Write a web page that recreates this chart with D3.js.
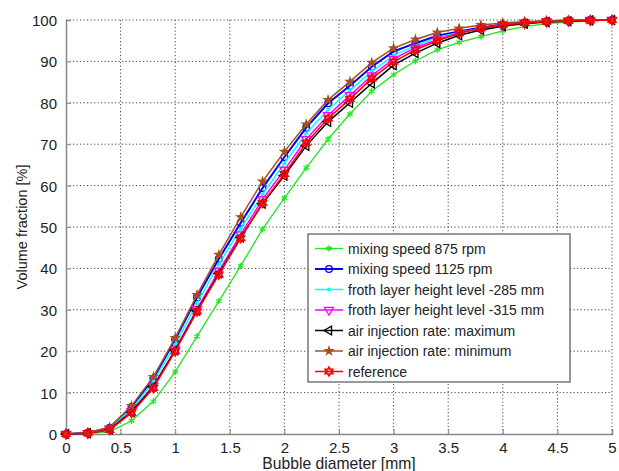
<!DOCTYPE html>
<html>
<head>
<meta charset="utf-8">
<script src="https://cdn.jsdelivr.net/npm/d3@7"></script>
<style>
  body { margin: 0; background: #fff; }
  text { font-family: "Liberation Sans", Arial, sans-serif; fill: #222; }
</style>
</head>
<body>
<svg id="canvas"></svg>
<script>
// bubble diameter [mm]
const diameters = [0, 0.2, 0.4, 0.6, 0.8, 1.0, 1.2, 1.4, 1.6, 1.8, 2.0, 2.2, 2.4,
    2.6, 2.8, 3.0, 3.2, 3.4, 3.6, 3.8, 4.0, 4.2, 4.4, 4.6, 4.8, 5.0];

const speed875 = [0, 0.1, 0.6, 3.2, 7.9, 15.0, 23.6, 32.1, 40.6, 49.5, 57.0, 64.3, 71.2,
    77.3, 82.8, 86.8, 90.1, 92.8, 94.6, 96.0, 97.4, 98.4, 99.1, 99.5, 99.8, 100];
const speed1125 = [0, 0.3, 1.5, 6.5, 13.4, 22.8, 33.0, 42.3, 51.0, 59.4, 66.9, 74.0, 79.9,
    84.1, 88.7, 92.4, 94.4, 96.2, 97.2, 98.2, 98.9, 99.4, 99.7, 99.9, 100, 100];
const froth285 = [0, 0.3, 1.4, 6.0, 12.6, 21.6, 31.6, 41.0, 49.6, 57.9, 65.4, 72.6, 78.4,
    83.0, 87.6, 91.4, 93.8, 95.8, 97.0, 98.0, 98.8, 99.3, 99.6, 99.8, 100, 100];
const froth315 = [0, 0.2, 1.2, 5.5, 11.6, 20.4, 30.2, 39.4, 48.2, 56.7, 63.8, 71.2, 77.0,
    81.8, 86.6, 90.6, 93.3, 95.3, 96.9, 98.0, 98.8, 99.3, 99.6, 99.8, 100, 100];
const airMax = [0, 0.2, 1.1, 5.3, 11.4, 20.2, 29.8, 38.8, 47.5, 55.6, 62.4, 69.6, 75.4,
    80.0, 84.7, 89.1, 92.0, 94.4, 96.3, 97.6, 98.5, 99.1, 99.5, 99.7, 99.9, 100];
const airMin = [0, 0.3, 1.6, 6.8, 13.8, 23.2, 33.6, 43.3, 52.4, 61.0, 68.2, 74.8, 80.7,
    85.1, 89.7, 93.2, 95.3, 97.0, 98.0, 98.8, 99.3, 99.6, 99.8, 99.9, 100, 100];
const reference = [0, 0.2, 1.0, 5.1, 11.1, 20.0, 29.6, 38.5, 47.3, 55.8, 62.8, 70.3, 76.2,
    80.9, 85.9, 89.9, 92.8, 95.0, 96.8, 98.0, 98.8, 99.3, 99.6, 99.8, 99.9, 100];

const xTicks = [0, 0.5, 1, 1.5, 2, 2.5, 3, 3.5, 4, 4.5, 5];
const yTicks = [0, 10, 20, 30, 40, 50, 60, 70, 80, 90, 100];

const seriesNames = ["mixing speed 875 rpm", "mixing speed 1125 rpm",
    "froth layer height level -285 mm", "froth layer height level -315 mm",
    "air injection rate: maximum", "air injection rate: minimum", "reference"];

// hexagram symbol like matlab 'h'
const hexagram = {
    draw(ctx, size) {
        const r = Math.sqrt(size / 2);
        for (let t = 0; t < 2; t++) {
            for (let i = 0; i < 3; i++) {
                const a = (t === 0 ? -Math.PI / 2 : Math.PI / 2) + i * 2 * Math.PI / 3;
                const px = r * Math.cos(a), py = r * Math.sin(a);
                if (i === 0) ctx.moveTo(px, py); else ctx.lineTo(px, py);
            }
            ctx.closePath();
        }
    }
};

const styles = [
    { values: speed875, color: "#22e622", width: 1.3, symbol: d3.symbolAsterisk, size: 28, fill: false },
    { values: speed1125, color: "#0000ff", width: 2, symbol: d3.symbolCircle, size: 36, fill: false },
    { values: froth285, color: "#00ffff", width: 1.5, symbol: d3.symbolCircle, size: 6, fill: true },
    { values: froth315, color: "#ff00ff", width: 1.5, symbol: d3.symbolTriangle, size: 36, fill: false, rotate: 180 },
    { values: airMax, color: "#000000", width: 1.5, symbol: d3.symbolTriangle, size: 34, fill: false, rotate: -90 },
    { values: airMin, color: "#a5501e", width: 1.5, symbol: d3.symbolStar, size: 18, fill: true },
    { values: reference, color: "#ff0000", width: 1.5, symbol: hexagram, size: 46, fill: false }
];

const margins = { top: 20, right: 7, bottom: 37, left: 66 };
const width = 619 - margins.left - margins.right;
const height = 471 - margins.top - margins.bottom;

const svg = d3.select("#canvas")
    .attr("width", 619)
    .attr("height", 471)
    .append("g")
    .attr("transform", "translate(" + margins.left + "," + margins.top + ")");

const x = d3.scaleLinear().domain([0, 5]).range([0, width]);
const y = d3.scaleLinear().domain([0, 100]).range([height, 0]);

// grid
svg.append("g")
    .selectAll("line")
    .data(xTicks.slice(1))
    .enter()
    .append("line")
    .attr("x1", d => x(d)).attr("x2", d => x(d))
    .attr("y1", 0).attr("y2", height)
    .style("stroke", "#444")
    .style("stroke-dasharray", "1.2,2.3");

svg.append("g")
    .selectAll("line")
    .data(yTicks.slice(1))
    .enter()
    .append("line")
    .attr("x1", 0).attr("x2", width)
    .attr("y1", d => y(d)).attr("y2", d => y(d))
    .style("stroke", "#444")
    .style("stroke-dasharray", "1.2,2.3");

// axes
const xAxis = svg.append("g")
    .attr("transform", "translate(0," + height + ")")
    .call(d3.axisBottom(x).tickValues(xTicks).tickSize(-5).tickPadding(8.5).tickFormat(d3.format("")));

const yAxis = svg.append("g")
    .call(d3.axisLeft(y).tickValues(yTicks).tickSize(-5).tickPadding(9));

[xAxis, yAxis].forEach(a => {
    a.select(".domain").style("stroke", "#888").style("stroke-width", 1.5);
    a.selectAll(".tick line").style("stroke", "#888");
    a.selectAll("text")
        .style("font-size", "15px")
        .style("font-family", "'Liberation Sans', Arial, sans-serif")
        .style("fill", "#222");
});
yAxis.selectAll("text").attr("dy", "0.36em");

// lines and markers
const line = d3.line()
    .x((d, i) => x(diameters[i]))
    .y(d => y(d));

const markerTransform = (s, px, py) =>
    "translate(" + px + "," + py + ")" + (s.rotate ? " rotate(" + s.rotate + ")" : "");

styles.forEach(s => {
    svg.append("path")
        .datum(s.values)
        .attr("d", line)
        .style("fill", "none")
        .style("stroke", s.color)
        .style("stroke-width", s.width);

    svg.append("g")
        .selectAll("path")
        .data(s.values)
        .enter()
        .append("path")
        .attr("d", d3.symbol().type(s.symbol).size(s.size))
        .attr("transform", (d, i) => markerTransform(s, x(diameters[i]), y(d)))
        .style("fill", s.fill ? s.color : "none")
        .style("stroke", s.color)
        .style("stroke-width", 1.3);
});

// axis labels
svg.append("text")
    .attr("x", width / 2)
    .attr("y", 469 - margins.top)
    .attr("text-anchor", "middle")
    .style("font-size", "15.7px")
    .text("Bubble diameter [mm]");

svg.append("text")
    .attr("transform", "translate(-39," + (height / 2) + ") rotate(-90)")
    .attr("text-anchor", "middle")
    .style("font-size", "14.5px")
    .text("Volume fraction [%]");

// legend
const legend = svg.append("g")
    .attr("transform", "translate(" + (308 - margins.left) + "," + (234 - margins.top) + ")");

legend.append("rect")
    .attr("width", 262)
    .attr("height", 148)
    .style("fill", "#fff")
    .style("stroke", "#555")
    .style("stroke-width", 1.2);

styles.forEach((s, i) => {
    const row = legend.append("g")
        .attr("transform", "translate(0," + (14.5 + i * 20.5) + ")");
    row.append("line")
        .attr("x1", 7).attr("x2", 35)
        .style("stroke", s.color)
        .style("stroke-width", s.width);
    row.append("path")
        .attr("d", d3.symbol().type(s.symbol).size(s.size))
        .attr("transform", markerTransform(s, 21, 0))
        .style("fill", s.fill ? s.color : "none")
        .style("stroke", s.color)
        .style("stroke-width", 1.3);
    row.append("text")
        .attr("x", 40)
        .attr("dy", "0.36em")
        .style("font-size", "14px")
        .text(seriesNames[i]);
});
</script>
</body>
</html>
